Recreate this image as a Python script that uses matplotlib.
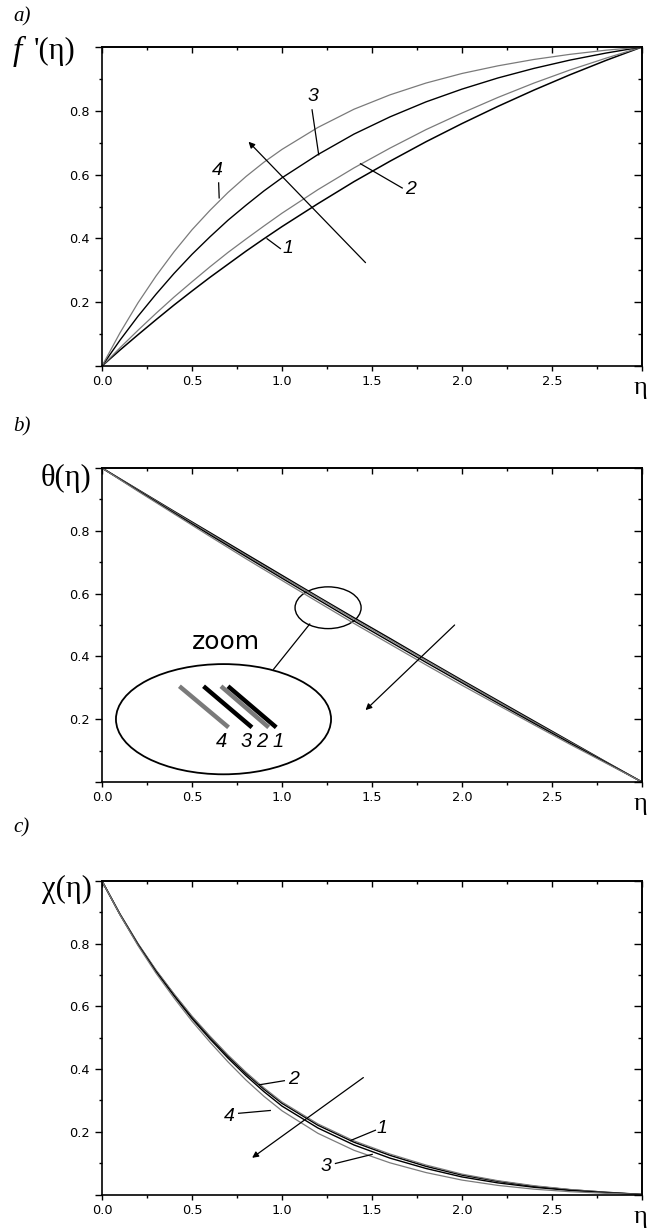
import matplotlib
matplotlib.use('Agg')
import matplotlib.pyplot as plt
from matplotlib.patches import Ellipse
from matplotlib.ticker import MultipleLocator, FuncFormatter, NullFormatter

# ---------------- data ----------------
# finer sampling near the wall for the curved profiles (panels a and c)
eta_f = [0.0, 0.1, 0.2, 0.3, 0.4, 0.5, 0.6, 0.7, 0.8, 0.9, 1.0,
         1.2, 1.4, 1.6, 1.8, 2.0, 2.2, 2.4, 2.6, 2.8, 3.0]
# panel b is almost straight
eta_b = [0.0, 0.2, 0.4, 0.6, 0.8, 1.0, 1.2, 1.4, 1.6, 1.8, 2.0, 2.2, 2.4, 2.6, 2.8, 3.0]

# panel a: f'(eta)
fp_1 = [0.0, 0.050, 0.098, 0.145, 0.191, 0.235, 0.278, 0.319, 0.360, 0.399, 0.437,
        0.509, 0.578, 0.642, 0.703, 0.760, 0.814, 0.865, 0.913, 0.958, 1.0]
fp_2 = [0.0, 0.057, 0.112, 0.165, 0.216, 0.264, 0.311, 0.356, 0.398, 0.439, 0.479,
        0.553, 0.621, 0.683, 0.741, 0.793, 0.842, 0.887, 0.928, 0.965, 1.0]
fp_3 = [0.0, 0.081, 0.156, 0.225, 0.290, 0.350, 0.405, 0.457, 0.504, 0.549, 0.590,
        0.663, 0.727, 0.781, 0.828, 0.868, 0.903, 0.933, 0.959, 0.981, 1.0]
fp_4 = [0.0, 0.104, 0.198, 0.282, 0.358, 0.427, 0.488, 0.544, 0.594, 0.639, 0.679,
        0.748, 0.805, 0.850, 0.887, 0.917, 0.941, 0.961, 0.977, 0.990, 1.0]

# panel b: theta(eta)
th_1 = [1.0, 0.931, 0.862, 0.794, 0.726, 0.658, 0.590, 0.523, 0.457, 0.390, 0.324, 0.259, 0.194, 0.129, 0.064, 0.0]
th_2 = [1.0, 0.930, 0.860, 0.791, 0.722, 0.654, 0.587, 0.519, 0.453, 0.387, 0.321, 0.256, 0.191, 0.127, 0.063, 0.0]
th_3 = [1.0, 0.928, 0.857, 0.787, 0.718, 0.649, 0.581, 0.513, 0.447, 0.381, 0.316, 0.251, 0.187, 0.124, 0.062, 0.0]
th_4 = [1.0, 0.926, 0.854, 0.782, 0.711, 0.642, 0.573, 0.505, 0.439, 0.373, 0.308, 0.245, 0.182, 0.120, 0.060, 0.0]

# panel c: chi(eta)
ch_1 = [1.0, 0.894, 0.799, 0.714, 0.638, 0.566, 0.502, 0.441, 0.386, 0.336, 0.291,
        0.221, 0.167, 0.125, 0.090, 0.062, 0.042, 0.026, 0.015, 0.007, 0.0]
ch_2 = [1.0, 0.895, 0.800, 0.716, 0.640, 0.569, 0.505, 0.445, 0.390, 0.340, 0.295,
        0.225, 0.171, 0.129, 0.094, 0.065, 0.044, 0.028, 0.016, 0.007, 0.0]
ch_3 = [1.0, 0.893, 0.797, 0.711, 0.634, 0.561, 0.496, 0.435, 0.379, 0.328, 0.282,
        0.212, 0.158, 0.116, 0.083, 0.056, 0.037, 0.023, 0.013, 0.006, 0.0]
ch_4 = [1.0, 0.892, 0.794, 0.706, 0.627, 0.553, 0.486, 0.423, 0.365, 0.313, 0.267,
        0.195, 0.141, 0.101, 0.070, 0.046, 0.029, 0.017, 0.009, 0.004, 0.0]

curve_ids = ["1", "2", "3", "4"]

# ---------------- figure ----------------
W, H = 648, 1231
fig = plt.figure(figsize=(W / 100, H / 100), dpi=100)

SERIF = ['Liberation Serif', 'DejaVu Serif']
SANS = ['DejaVu Sans']
ITAL = ['Liberation Sans', 'DejaVu Sans']
BLACK = '#000000'
GRAY = '#7a7a7a'
colors = [BLACK, GRAY, BLACK, GRAY]
widths = [1.1, 0.9, 1.0, 0.9]


def fx(x):
    return x / W


def fy(y):
    return 1 - y / H


def make_ax(top, bottom):
    ax = fig.add_axes([fx(102), fy(bottom), 540 / W, (bottom - top) / H])
    ax.set_xlim(0, 3.0)
    ax.set_ylim(0, 1.0)
    ax.xaxis.set_major_locator(MultipleLocator(0.5))
    ax.xaxis.set_minor_locator(MultipleLocator(0.25))
    ax.yaxis.set_major_locator(MultipleLocator(0.2))
    ax.yaxis.set_minor_locator(MultipleLocator(0.1))
    ax.xaxis.set_major_formatter(FuncFormatter(lambda v, p: f"{v:.1f}" if v < 2.9 else ""))
    ax.yaxis.set_major_formatter(FuncFormatter(lambda v, p: f"{v:.1f}" if 0.05 < v < 0.95 else ""))
    ax.tick_params(axis='both', which='both', direction='out', top=False, right=False,
                   labelsize=9.3, width=1.0, colors='k')
    ax.tick_params(axis='y', which='major', length=5, pad=4.0)
    ax.tick_params(axis='y', which='minor', length=2.5)
    ax.tick_params(axis='x', which='major', length=3.5, pad=3)
    ax.tick_params(axis='x', which='minor', length=2.5)
    for s in ax.spines.values():
        s.set_linewidth(1.2)
    # top and right: inward ticks, no labels
    sx = ax.secondary_xaxis('top')
    sx.xaxis.set_major_locator(MultipleLocator(0.5))
    sx.xaxis.set_minor_locator(MultipleLocator(0.25))
    sx.xaxis.set_major_formatter(NullFormatter())
    sx.tick_params(which='both', direction='in', width=1.0)
    sx.tick_params(which='major', length=4)
    sx.tick_params(which='minor', length=2.5)
    sy = ax.secondary_yaxis('right')
    sy.yaxis.set_major_locator(MultipleLocator(0.2))
    sy.yaxis.set_minor_locator(MultipleLocator(0.1))
    sy.yaxis.set_major_formatter(NullFormatter())
    sy.tick_params(which='both', direction='in', width=1.0)
    sy.tick_params(which='major', length=5.5)
    sy.tick_params(which='minor', length=3)
    for s in list(sx.spines.values()) + list(sy.spines.values()):
        s.set_linewidth(1.2)
    return ax


def arrow(ax, start, end):
    ax.annotate('', xy=end, xytext=start,
                arrowprops=dict(arrowstyle='-|>', lw=0.9, color='k',
                                mutation_scale=9, shrinkA=0, shrinkB=0))


def leader(ax, p0, p1, text, tpos):
    ax.plot([p0[0], p1[0]], [p0[1], p1[1]], color='k', lw=0.9)
    ax.text(tpos[0], tpos[1], text, fontsize=14, style='italic', family=ITAL,
            ha='center', va='center')


# ---------------- panel a ----------------
axa = make_ax(47, 366)
for ys, c, lw in zip([fp_1, fp_2, fp_3, fp_4], colors, widths):
    axa.plot(eta_f, ys, color=c, lw=lw)
leader(axa, (1.204, 0.662), (1.167, 0.803), curve_ids[2], (1.174, 0.845))
leader(axa, (0.651, 0.527), (0.648, 0.574), curve_ids[3], (0.642, 0.612))
leader(axa, (0.917, 0.399), (0.991, 0.368), curve_ids[0], (1.035, 0.368))
leader(axa, (1.436, 0.634), (1.668, 0.558), curve_ids[1], (1.712, 0.553))
arrow(axa, (1.464, 0.324), (0.814, 0.703))

# ---------------- panel b ----------------
axb = make_ax(468, 782)
for ys, c, lw in zip([th_1, th_2, th_3, th_4], colors, widths):
    axb.plot(eta_b, ys, color=c, lw=lw)
axb.add_patch(Ellipse((1.256, 0.555), 0.367, 0.133, fill=False, lw=1.0, ec='k'))
axb.add_patch(Ellipse((0.675, 0.200), 1.195, 0.351, fill=False, lw=1.3, ec='k'))
axb.plot([0.953, 1.154], [0.359, 0.503], color='k', lw=0.9)
axb.text(0.69, 0.445, 'zoom', fontsize=18, family=SANS, ha='center', va='center')
# magnified strokes inside the zoom ellipse (curves 4, 3, 2, 1)
stroke_x = [(0.430, 0.703), (0.564, 0.833), (0.661, 0.926), (0.700, 0.968)]
stroke_c = [GRAY, BLACK, GRAY, BLACK]
for (x0, x1), c in zip(stroke_x, stroke_c):
    axb.plot([x0, x1], [0.305, 0.174], color=c, lw=3.2, solid_capstyle='butt')
inset_label_x = [0.980, 0.889, 0.800, 0.666]
for cid, xl in zip(curve_ids, inset_label_x):
    axb.text(xl, 0.128, cid, fontsize=14.5, style='italic', family=ITAL,
             ha='center', va='center')
arrow(axb, (1.959, 0.500), (1.464, 0.229))

# ---------------- panel c ----------------
axc = make_ax(881, 1194.5)
for ys, c, lw in zip([ch_1, ch_2, ch_3, ch_4], colors, widths):
    axc.plot(eta_f, ys, color=c, lw=lw)
leader(axc, (0.875, 0.350), (1.013, 0.363), curve_ids[1], (1.065, 0.368))
leader(axc, (0.935, 0.268), (0.759, 0.259), curve_ids[3], (0.710, 0.250))
leader(axc, (1.380, 0.172), (1.519, 0.205), curve_ids[0], (1.557, 0.211))
leader(axc, (1.501, 0.128), (1.297, 0.099), curve_ids[2], (1.245, 0.090))
arrow(axc, (1.452, 0.373), (0.834, 0.117))

# ---------------- labels ----------------
fig.text(fx(13), fy(17), 'a)', fontsize=15, family=SERIF, style='italic', ha='left', va='center')
fig.text(fx(13), fy(427), 'b)', fontsize=15, family=SERIF, style='italic', ha='left', va='center')
fig.text(fx(13), fy(828), 'c)', fontsize=15, family=SERIF, style='italic', ha='left', va='center')

fig.text(fx(13), fy(51), 'f', fontsize=24, family=SERIF, style='italic', ha='left', va='center')
fig.text(fx(34), fy(51), "'(η)", fontsize=22, family=SERIF, ha='left', va='center')
fig.text(fx(91), fy(478), 'θ(η)', fontsize=22, family=SERIF, ha='right', va='center')
fig.text(fx(92), fy(889), 'χ(η)', fontsize=22, family=SERIF, ha='right', va='center')

for yb in (366, 782, 1194.5):
    fig.text(fx(640), fy(yb + 22), 'η', fontsize=19, family=SERIF, ha='center', va='center')

fig.savefig('out.png', dpi=100)
